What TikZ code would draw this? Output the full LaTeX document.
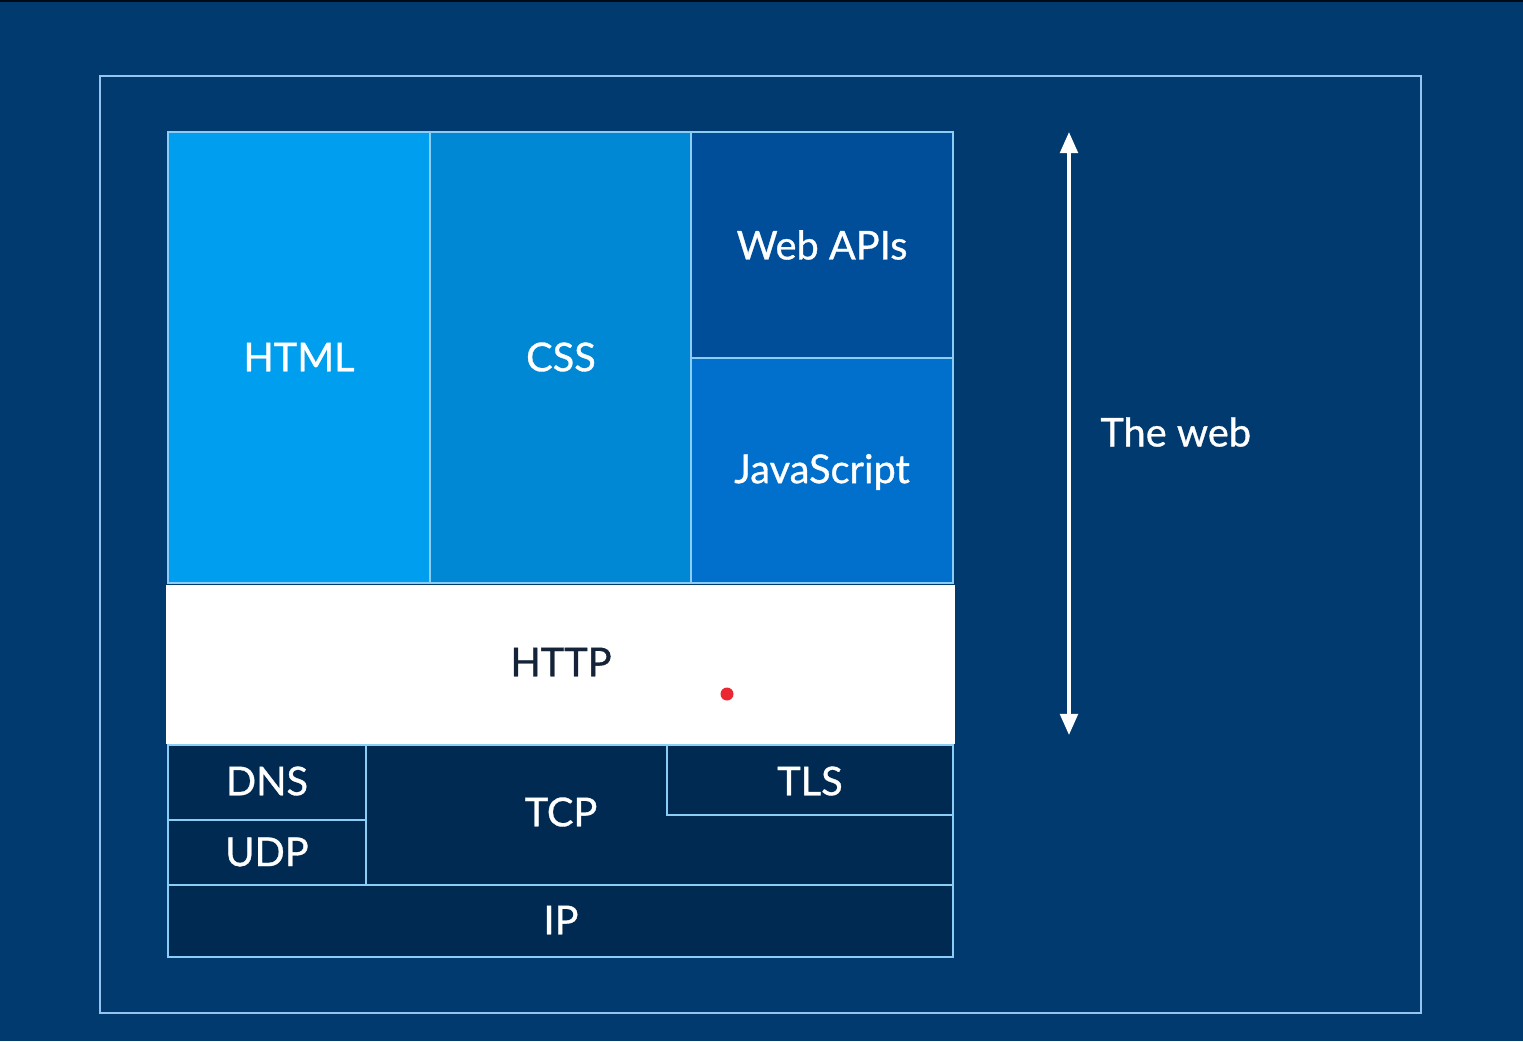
\documentclass[tikz,border=0pt]{standalone}
\usepackage{fontspec}
\setmainfont{Lato}[FakeBold=0.8]
\usetikzlibrary{arrows.meta}
\definecolor{bgblue}{RGB}{0,58,110}
\definecolor{framecol}{RGB}{150,195,240}
\definecolor{edgecol}{RGB}{140,205,245}
\definecolor{htmlcol}{RGB}{0,158,238}
\definecolor{csscol}{RGB}{0,136,213}
\definecolor{apicol}{RGB}{0,78,153}
\definecolor{jscol}{RGB}{0,112,204}
\definecolor{darkcol}{RGB}{0,42,82}
\definecolor{httptext}{RGB}{20,35,55}
\definecolor{dotred}{RGB}{235,40,50}
\tikzset{
  block/.style={draw=edgecol, line width=0.7pt, inner sep=0pt},
  lbl/.style={text=white, font=\fontsize{11.3}{13}\selectfont},
}
\begin{document}
\begin{tikzpicture}[x=0.01cm,y=-0.01cm]
\useasboundingbox (0,0) rectangle (1523,1041);
\fill[bgblue] (0,0) rectangle (1523,1041);
\fill[black!80!bgblue] (0,0) rectangle (1523,2);
% outer frame
\draw[framecol, line width=0.7pt] (100,76) rectangle (1421,1013);
% upper blocks
\draw[block, fill=htmlcol] (168,132) rectangle (430,583);
\draw[block, fill=csscol] (430,132) rectangle (691,583);
\draw[block, fill=apicol] (691,132) rectangle (953,358);
\draw[block, fill=jscol] (691,358) rectangle (953,583);
\node[lbl] (html) at (299,357) {HTML};
\node[lbl] (css) at (561,357) {CSS};
\node[lbl] (webapis) at (822,245) {Web APIs};
\node[lbl] (js) at (822,472) {JavaScript};
% HTTP
\fill[white] (166,585) rectangle (955,744);
\node[lbl, text=httptext] (http) at (561,662) {HTTP};
\fill[dotred] (727,694) circle (6.5);
% lower blocks
\draw[block, fill=darkcol] (168,745) rectangle (366,820);
\draw[block, fill=darkcol] (168,820) rectangle (366,885);
\draw[block, fill=darkcol] (366,745) -- (667,745) -- (667,815) -- (953,815) -- (953,885) -- (366,885) -- cycle;
\draw[block, fill=darkcol] (667,745) rectangle (953,815);
\draw[block, fill=darkcol] (168,885) rectangle (953,957);
\node[lbl] (dns) at (267,781) {DNS};
\node[lbl] (udp) at (267,852) {UDP};
\node[lbl] (tcp) at (561,812) {TCP};
\node[lbl] (tls) at (810,781) {TLS};
\node[lbl] (ip) at (561,920) {IP};
% arrow
\coordinate (atop) at (1069,132);
\coordinate (abot) at (1069,735);
\draw[white, line width=1pt, {Triangle[width=5pt,length=6pt]}-{Triangle[width=5pt,length=6pt]}] (atop) -- (abot);
\node[lbl, anchor=west] (web) at (1088,432) {The web};
\end{tikzpicture}
\end{document}
